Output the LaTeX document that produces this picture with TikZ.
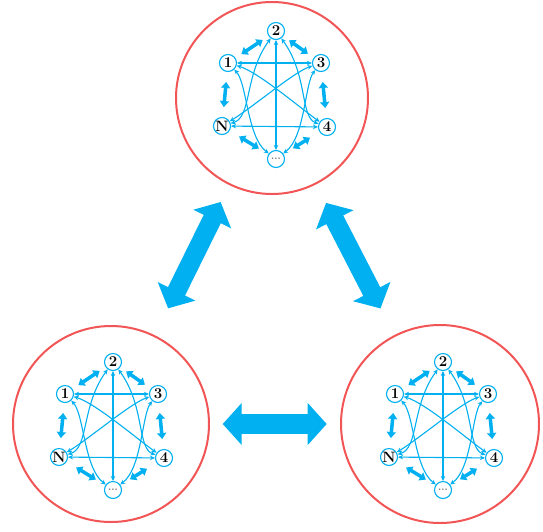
\documentclass[tikz,border=0pt]{standalone}
\usetikzlibrary{arrows.meta}
\definecolor{nblue}{HTML}{00B0F0}
\definecolor{cred}{HTML}{F25555}
\tikzset{
  ring/.style={circle,draw=cred,line width=2pt,minimum size=#1,inner sep=0pt,outer sep=0pt},
  vtx/.style={circle,draw=nblue,fill=white,line width=1.1pt,minimum size=17pt,inner sep=0pt,font=\bfseries\fontsize{15}{15}\selectfont},
  dotsvtx/.style={vtx,font=\bfseries\fontsize{10}{10}\selectfont,text=black!55},
  lnk/.style={draw=nblue,line width=1.1pt,{Stealth[length=5pt,width=4.5pt]}-{Stealth[length=5pt,width=4.5pt]}},
  fat/.style={draw=nblue,line width=3.5pt,{Triangle[length=6pt,width=9pt]}-{Triangle[length=6pt,width=9pt]},shorten <=#1,shorten >=#1},
  big/.style={draw=nblue,line width=#1,{Triangle[length=19pt,width=41pt]}-{Triangle[length=19pt,width=41pt]}},
  net/.pic={
    \node[vtx] (-n2) at (2,-64) {2};
    \node[vtx] (-n1) at (-46,-32) {1};
    \node[vtx] (-n3) at (47,-32) {3};
    \node[vtx] (-nN) at (-52,31) {N};
    \node[vtx] (-n4) at (53,32) {4};
    \node[dotsvtx] (-nd) at (2,64) {...};
    \draw[lnk] (-n1) -- (-n3);
    \draw[lnk] (-nN) -- (-n4);
    \draw[lnk] (-n2) -- (-nd);
    \draw[lnk] (-n1) .. controls (-16,-23) and (25,12) .. (-n4);
    \draw[lnk] (-n3) .. controls (20,-23) and (-21,12) .. (-nN);
    \draw[lnk] (-n2) .. controls (-30,-20) and (-22,22) .. (-nN);
    \draw[lnk] (-n2) .. controls (34,-20) and (26,22) .. (-n4);
    \draw[lnk] (-n1) .. controls (-27,-12) and (-27,42) .. (-nd);
    \draw[lnk] (-n3) .. controls (31,-12) and (31,42) .. (-nd);
    \draw[fat=7pt] (-n1) -- (-n2);
    \draw[fat=7pt] (-n2) -- (-n3);
    \draw[fat=10pt] (-n3) -- (-n4);
    \draw[fat=10pt] (-n1) -- (-nN);
    \draw[fat=11pt] (-nN) -- (-nd);
    \draw[fat=11pt] (-n4) -- (-nd);
  }
}
\begin{document}
\begin{tikzpicture}[x=1pt,y=-1pt]
\useasboundingbox (0,0) rectangle (543,531);
\node[ring=192pt] (top) at (272,98) {};
\node[ring=196pt] (bl) at (111,424) {};
\node[ring=198pt] (br) at (440,424) {};
\pic (t) at (274,95) {net};
\pic (l) at (111,426) {net};
\pic (r) at (441,426) {net};
\draw[big=19pt, shorten <=20pt, shorten >=31pt] (top) -- (bl);
\draw[big=19pt, shorten <=22pt, shorten >=31pt] (top) -- (br);
\draw[big=20pt, shorten <=13.7pt, shorten >=14.3pt] (bl) -- (br);
\end{tikzpicture}
\end{document}
